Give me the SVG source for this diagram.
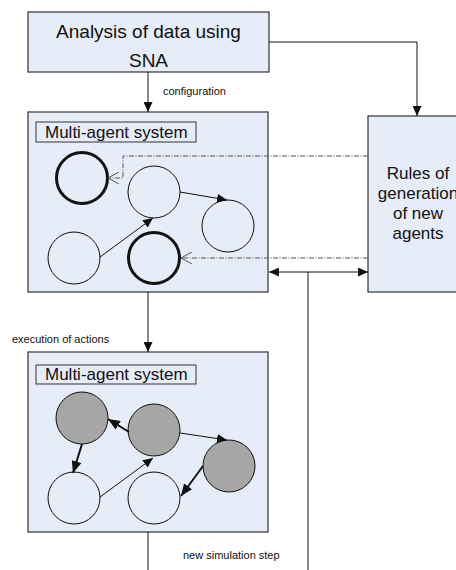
<svg xmlns="http://www.w3.org/2000/svg" width="456" height="570" viewBox="0 0 456 570">
<style>
.box{fill:#e6ecf8;stroke:#333;stroke-width:1.2}
.lbl{fill:none;stroke:#333;stroke-width:1}
.c{fill:none;stroke:#111;stroke-width:1}
.ct{fill:none;stroke:#111;stroke-width:3}
.cg{fill:#a6a6a6;stroke:#111;stroke-width:1}
.ln{fill:none;stroke:#111;stroke-width:1}
.lt{fill:none;stroke:#111;stroke-width:2}
.dd{fill:none;stroke:#555;stroke-width:1;stroke-dasharray:5 1.5 1 1.5}
text{font-family:"Liberation Sans",Arial,sans-serif;fill:#111}
.big{font-size:19px;text-anchor:middle}
.mid{font-size:17px}
.sm{font-size:11px}
</style>
<defs>
<marker id="a" markerUnits="userSpaceOnUse" markerWidth="10" markerHeight="9" refX="10" refY="4.5" orient="auto-start-reverse"><path d="M0,0 L10,4.5 L0,9 z" fill="#111"/></marker>
<marker id="at" markerUnits="userSpaceOnUse" markerWidth="12" markerHeight="10" refX="12" refY="5" orient="auto"><path d="M0,0 L12,5 L0,10 z" fill="#111"/></marker>
<marker id="o" markerUnits="userSpaceOnUse" markerWidth="12" markerHeight="12" refX="11" refY="6" orient="auto"><path d="M0,0 L11,6 L0,12" fill="none" stroke="#555" stroke-width="1"/></marker>
</defs>

<g id="analysis">
<rect class="box" x="28" y="12" width="241" height="60"/>
<text class="big" x="148.5" y="38">Analysis of data using</text>
<text class="big" x="148.5" y="67">SNA</text>
</g>

<g id="rules">
<rect class="box" x="368" y="116" width="100" height="176"/>
<text class="mid" text-anchor="middle" x="418" y="179">Rules of</text>
<text class="mid" text-anchor="middle" x="418" y="199">generation</text>
<text class="mid" text-anchor="middle" x="418" y="219">of new</text>
<text class="mid" text-anchor="middle" x="418" y="239">agents</text>
</g>

<g id="mas1">
<rect class="box" x="28" y="112" width="240" height="180"/>
<rect class="lbl" x="36" y="122" width="160" height="20"/>
<text class="mid" x="45" y="138">Multi-agent system</text>
<circle class="ct" cx="82" cy="178" r="25.5"/>
<circle class="c" cx="154" cy="192" r="26"/>
<circle class="c" cx="228" cy="226" r="26"/>
<circle class="c" cx="74" cy="258" r="26"/>
<circle class="ct" cx="154" cy="258" r="25.5"/>
<path class="ln" d="M100,257 L153,218" marker-end="url(#a)"/>
<path class="ln" d="M180,192 L227,200" marker-end="url(#a)"/>
</g>

<g id="mas2">
<rect class="box" x="28" y="352" width="240" height="180"/>
<rect class="lbl" x="36" y="365" width="160" height="19"/>
<text class="mid" x="45" y="380">Multi-agent system</text>
<circle class="cg" cx="82" cy="418" r="26"/>
<circle class="cg" cx="154" cy="430" r="26"/>
<circle class="cg" cx="229" cy="466" r="26"/>
<circle class="c" cx="74" cy="498" r="26"/>
<circle class="c" cx="154" cy="498" r="26"/>
<path class="lt" d="M129,432 L108,419" marker-end="url(#at)"/>
<path class="lt" d="M82,444 L73,473" marker-end="url(#at)"/>
<path class="lt" d="M203,466 L181,496" marker-end="url(#at)"/>
<path class="ln" d="M100,497 L153,458" marker-end="url(#a)"/>
<path class="ln" d="M180,433 L227,440" marker-end="url(#a)"/>
</g>

<g id="connectors">
<path class="ln" d="M148,72 L148,112" marker-end="url(#a)"/>
<path class="ln" d="M269,42 L417,42 L417,116" marker-end="url(#a)"/>
<path class="ln" d="M148,292 L148,352" marker-end="url(#a)"/>
<path class="ln" d="M148,532 L148,570"/>
<path class="ln" d="M269,272 L368,272" marker-start="url(#a)" marker-end="url(#a)"/>
<path class="ln" d="M308,272 L308,570"/>
<path class="dd" d="M368,156 L123,156 L123,178 L108,178" marker-end="url(#o)"/>
<path class="dd" d="M368,258 L181,258" marker-end="url(#o)"/>
<text class="sm" x="163" y="95">configuration</text>
<text class="sm" x="12" y="343">execution of actions</text>
<text class="sm" x="183" y="559">new simulation step</text>
</g>
</svg>
